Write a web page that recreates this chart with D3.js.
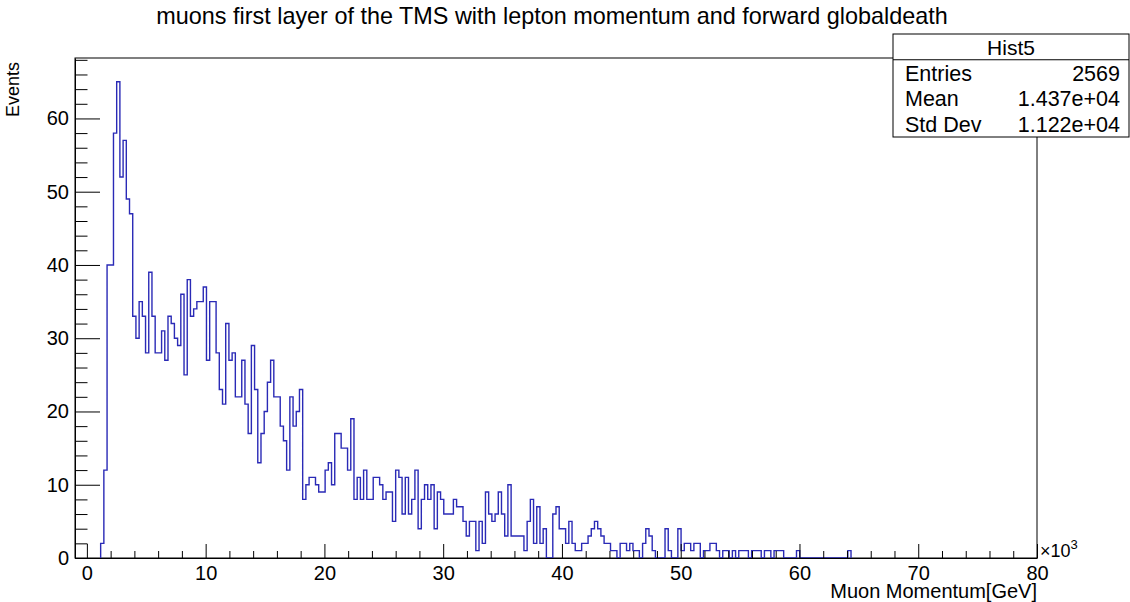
<!DOCTYPE html>
<html>
<head>
<meta charset="utf-8">
<script src="https://cdn.jsdelivr.net/npm/d3@7"></script>
<style>
  body { margin: 0; background: #fff; }
  svg { display: block; font-family: "Liberation Sans", Arial, Helvetica, sans-serif; }
</style>
</head>
<body>
<svg id="chart" width="1130" height="602"></svg>
<script>
// ---- histogram definition ----
const histName = "Hist5";
const chartTitle = "muons first layer of the TMS with lepton momentum and forward globaldeath";
const xTitle = "Muon Momentum[GeV]";
const yTitle = "Events";
const binLow = -1000;
const binHigh = 80000;
const nBins = 300;
const firstFilledBin = 8;   // index of the first bin listed in counts

// bin contents, starting at bin index firstFilledBin
const counts = [
  2, 12, 40, 40, 58, 65, 52, 57, 49, 47,
  33, 30, 35, 33, 28, 39, 33, 28, 28, 31,
  27, 33, 32, 30, 29, 36, 25, 38, 33, 34,
  35, 35, 37, 27, 35, 35, 28, 23, 21, 32,
  27, 28, 22, 22, 27, 21, 17, 29, 23, 13,
  17, 20, 24, 27, 22, 22, 18, 16, 12, 22,
  18, 20, 23, 8, 10, 11, 11, 10, 9, 9,
  12, 13, 10, 17, 17, 15, 15, 12, 19, 8,
  11, 8, 12, 8, 8, 11, 11, 10, 8, 9,
  9, 5, 12, 11, 6, 11, 6, 8, 12, 4,
  8, 10, 8, 10, 4, 9, 8, 6, 6, 6,
  8, 7, 7, 5, 3, 5, 5, 1, 5, 2,
  9, 6, 5, 6, 9, 6, 3, 10, 3, 3,
  3, 3, 1, 5, 8, 2, 7, 2, 4, 0,
  0, 6, 7, 4, 4, 2, 5, 2, 1, 1,
  2, 2, 3, 4, 5, 4, 3, 2, 2, 1,
  1, 0, 2, 2, 1, 2, 1, 1, 0, 2,
  4, 3, 1, 0, 0, 0, 4, 1, 0, 0,
  4, 1, 2, 2, 1, 2, 2, 0, 1, 1,
  2, 2, 1, 0, 1, 1, 0, 1, 0, 1,
  1, 1, 0, 1, 1, 1, 0, 1, 1, 0,
  1, 1, 1, 0, 0, 0, 0, 1, 0, 0,
  0, 0, 0, 0, 0, 0, 0, 0, 0, 0,
  0, 0, 0, 1
];

const xTickLabels = [0, 10, 20, 30, 40, 50, 60, 70, 80];   // in units of 10^3
const yTickLabels = [0, 10, 20, 30, 40, 50, 60];
const statLabels = ["Entries", "Mean", "Std Dev"];
const statValues = ["2569", "1.437e+04", "1.122e+04"];

// ---- layout ----
const frame = { left: 75, right: 1037, top: 58, bottom: 558 };
const lineColor = "#2a2ab6";
const binWidth = (binHigh - binLow) / nBins;

const svg = d3.select("#chart");

const x = d3.scaleLinear().domain([binLow, binHigh]).range([frame.left, frame.right]);
const yMax = d3.max(counts) * 1.05;
const y = d3.scaleLinear().domain([0, yMax]).range([frame.bottom, frame.top]);

// ---- frame ----
svg.append("rect")
  .attr("x", frame.left).attr("y", frame.top)
  .attr("width", frame.right - frame.left).attr("height", frame.bottom - frame.top)
  .attr("fill", "none").attr("stroke", "#000").attr("stroke-width", 1);

// ---- histogram outline (step line) ----
const bins = counts.map((c, i) => {
  const lo = binLow + (firstFilledBin + i) * binWidth;
  return { lo, hi: lo + binWidth, c };
});
const pts = [[bins[0].lo, 0]];
bins.forEach(b => { pts.push([b.lo, b.c], [b.hi, b.c]); });
pts.push([bins[bins.length - 1].hi, 0]);

svg.append("path")
  .attr("d", d3.line().x(d => x(d[0])).y(d => y(d[1]))(pts))
  .attr("fill", "none")
  .attr("stroke", lineColor)
  .attr("stroke-width", 1.4)
  .attr("stroke-linejoin", "miter");

// ---- axes ----
function styleAxis(g) {
  g.attr("font-family", null).attr("font-size", null);
  g.selectAll("line").attr("stroke", "#000");
  g.selectAll("path.domain").attr("stroke", "#000");
}

const xMajor = xTickLabels.map(v => v * 1000);
const xMinor = d3.range(2000, 80000, 2000).filter(v => v % 10000 !== 0);

svg.append("g")
  .attr("transform", `translate(0,${frame.bottom})`)
  .call(d3.axisBottom(x).tickValues(xMinor).tickSize(-7).tickSizeOuter(0).tickFormat(""))
  .call(g => g.select(".domain").remove())
  .call(styleAxis);

svg.append("g")
  .attr("transform", `translate(0,${frame.bottom})`)
  .call(d3.axisBottom(x).tickValues(xMajor).tickSize(-14).tickSizeOuter(0)
    .tickPadding(8).tickFormat((d, i) => xTickLabels[i]))
  .call(styleAxis)
  .call(g => g.selectAll("text").attr("font-size", 20).attr("fill", "#000"));

const yMinor = d3.range(2, yMax, 2).filter(v => v % 10 !== 0);

svg.append("g")
  .attr("transform", `translate(${frame.left},0)`)
  .call(d3.axisLeft(y).tickValues(yMinor).tickSize(-12.5).tickSizeOuter(0).tickFormat(""))
  .call(g => g.select(".domain").remove())
  .call(styleAxis);

svg.append("g")
  .attr("transform", `translate(${frame.left},0)`)
  .call(d3.axisLeft(y).tickValues(yTickLabels).tickSize(-25).tickSizeOuter(0)
    .tickPadding(6).tickFormat((d, i) => yTickLabels[i]))
  .call(styleAxis)
  .call(g => g.selectAll("text").attr("font-size", 20).attr("fill", "#000"));

// axis exponent
const expo = svg.append("text")
  .attr("x", frame.right + 3).attr("y", frame.bottom - 1)
  .attr("font-size", 18).attr("fill", "#000");
expo.append("tspan").text("\u00d710");
expo.append("tspan").attr("dy", -8).attr("font-size", 13).text("3");

// ---- titles ----
svg.append("text")
  .attr("x", 552).attr("y", 24)
  .attr("text-anchor", "middle")
  .attr("font-size", 23.4)
  .attr("fill", "#000")
  .text(chartTitle);

svg.append("text")
  .attr("x", frame.right).attr("y", 598)
  .attr("text-anchor", "end")
  .attr("font-size", 20)
  .attr("fill", "#000")
  .text(xTitle);

svg.append("text")
  .attr("transform", `translate(19,${frame.top + 4}) rotate(-90)`)
  .attr("text-anchor", "end")
  .attr("font-size", 18)
  .attr("fill", "#000")
  .text(yTitle);

// ---- statistics box ----
const box = { x0: 893, y0: 34, x1: 1129, y1: 137 };
const rowH = (box.y1 - box.y0) / (statLabels.length + 1);
const stat = svg.append("g");
stat.append("rect")
  .attr("x", box.x0).attr("y", box.y0)
  .attr("width", box.x1 - box.x0).attr("height", box.y1 - box.y0)
  .attr("fill", "#fff").attr("stroke", "#000").attr("stroke-width", 1);
stat.append("line")
  .attr("x1", box.x0).attr("x2", box.x1)
  .attr("y1", box.y0 + rowH).attr("y2", box.y0 + rowH)
  .attr("stroke", "#000");
stat.append("text")
  .attr("x", (box.x0 + box.x1) / 2).attr("y", box.y0 + rowH - 5)
  .attr("text-anchor", "middle").attr("font-size", 21).attr("fill", "#000")
  .text(histName);
statLabels.forEach((lab, i) => {
  const by = box.y0 + rowH * (i + 2) - 5;
  stat.append("text").attr("x", box.x0 + 12).attr("y", by)
    .attr("font-size", 21.5).attr("fill", "#000").text(lab);
  stat.append("text").attr("x", box.x1 - 9).attr("y", by)
    .attr("text-anchor", "end").attr("font-size", 21.5).attr("fill", "#000").text(statValues[i]);
});
</script>
</body>
</html>
